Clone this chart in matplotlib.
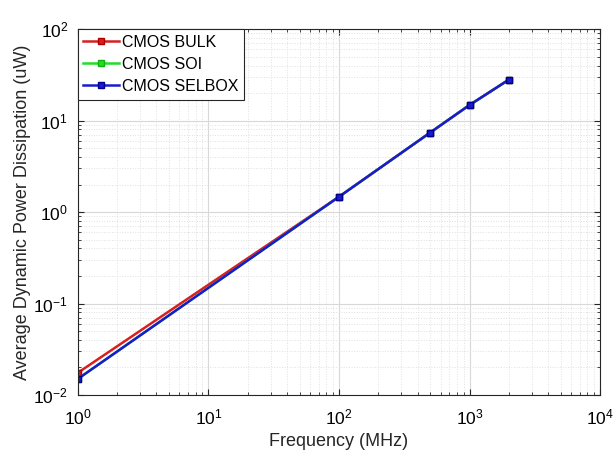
import numpy as np
import matplotlib
matplotlib.use('Agg')
import matplotlib.pyplot as plt

# frequency points (MHz) and dynamic power (uW)
freq = [1, 100, 500, 1000, 2000]
p_bulk = [0.0175, 1.47, 7.4, 14.8, 28.0]
p_soi = [0.0150, 1.47, 7.4, 14.8, 28.0]
p_selbox = [0.0150, 1.47, 7.4, 14.8, 28.0]
labels = ['CMOS BULK', 'CMOS SOI', 'CMOS SELBOX']

plt.rcParams['font.family'] = ['Liberation Sans', 'DejaVu Sans']

fig = plt.figure(figsize=(6.13, 4.62), dpi=100)
ax = fig.add_axes([0.127, 0.145, 0.852, 0.792])

ax.plot(freq, p_bulk, '-s', color='#d81f1f', mec='#b00000', lw=1.8, ms=4.5, label=labels[0])
ax.plot(freq, p_soi, '-s', color='#22dd22', mec='#10b010', lw=1.8, ms=4.5, label=labels[1])
ax.plot(freq, p_selbox, '-s', color='#1a1ad0', mec='#00008b', lw=1.8, ms=4.5, label=labels[2])

ax.set_xscale('log'); ax.set_yscale('log')
ax.set_xlim(1, 1e4); ax.set_ylim(1e-2, 1e2)
ax.grid(True, which='major', color='#d8d8d8', lw=0.8, ls='-')
ax.grid(True, which='minor', color='#e0e0e0', lw=0.7, ls=':')
ax.set_axisbelow(True)
ax.tick_params(which='both', direction='in', top=True, right=True, labelsize=12.5, color='#262626')
ax.tick_params(which='major', length=4)
ax.tick_params(which='minor', length=2.5)
ax.tick_params(axis='x', pad=9)
ax.tick_params(axis='y', pad=7)
for s in ax.spines.values():
    s.set_color('#262626'); s.set_linewidth(0.8)

ax.set_xlabel('Frequency (MHz)', fontsize=13, color='#262626', labelpad=4)
ax.set_ylabel('Average Dynamic Power Dissipation (uW)', fontsize=13, color='#262626', labelpad=2)

leg = ax.legend(loc='upper left', borderaxespad=0, fontsize=11.5, fancybox=False,
                edgecolor='#262626', framealpha=1, handlelength=2.2, handletextpad=0.2,
                labelspacing=0.45, borderpad=0.35)
leg.get_frame().set_linewidth(0.8)

fig.savefig('out.png', dpi=100)
print('saved out.png')
